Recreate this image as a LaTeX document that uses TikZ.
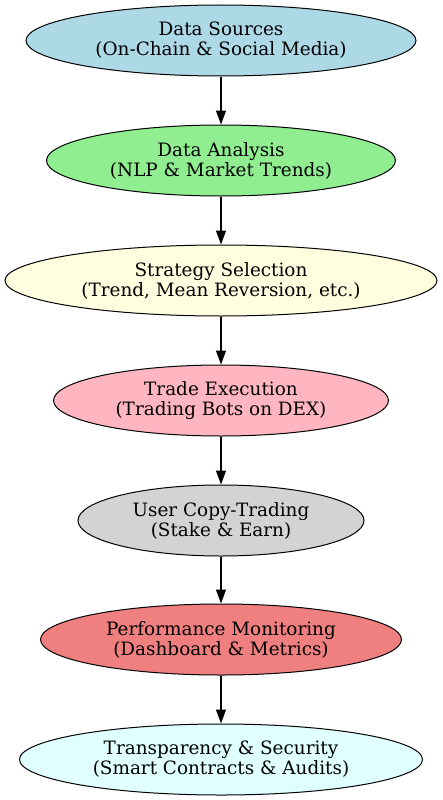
\documentclass[tikz,border=0pt]{standalone}
\usepackage{fontspec}
\setmainfont{DejaVu Serif}
\usetikzlibrary{shapes.geometric,arrows.meta}
\definecolor{cblue}{HTML}{ADD8E6}
\definecolor{cgreen}{HTML}{90EE90}
\definecolor{cyellow}{HTML}{FFFFE0}
\definecolor{cpink}{HTML}{FFB6C1}
\definecolor{cgrey}{HTML}{D3D3D3}
\definecolor{ccoral}{HTML}{F08080}
\definecolor{ccyan}{HTML}{E0FFFF}
\tikzset{
  stage/.style={ellipse, draw=black, line width=1pt, inner sep=0pt, align=center,
    minimum height=71pt, font=\fontsize{18.4pt}{20pt}\selectfont},
  flow/.style={-{Triangle[length=14pt,width=10pt]}, line width=1.1pt}
}
\begin{document}
\begin{tikzpicture}[x=1pt,y=-1pt]
\useasboundingbox (0,0) rectangle (442,800);
\node[stage, fill=cblue, minimum width=390pt] (n1) at (221,40.5) {Data Sources\\(On-Chain \& Social Media)};
\node[stage, fill=cgreen, minimum width=349pt] (n2) at (221,160.5) {Data Analysis\\(NLP \& Market Trends)};
\node[stage, fill=cyellow, minimum width=432pt] (n3) at (221,280.5) {Strategy Selection\\(Trend, Mean Reversion, etc.)};
\node[stage, fill=cpink, minimum width=335pt] (n4) at (221,400.5) {Trade Execution\\(Trading Bots on DEX)};
\node[stage, fill=cgrey, minimum width=286pt] (n5) at (221,520.5) {User Copy-Trading\\(Stake \& Earn)};
\node[stage, fill=ccoral, minimum width=361pt] (n6) at (221,639.5) {Performance Monitoring\\(Dashboard \& Metrics)};
\node[stage, fill=ccyan, minimum width=403pt] (n7) at (221,759.5) {Transparency \& Security\\(Smart Contracts \& Audits)};
\draw[flow] (n1) -- (n2);
\draw[flow] (n2) -- (n3);
\draw[flow] (n3) -- (n4);
\draw[flow] (n4) -- (n5);
\draw[flow] (n5) -- (n6);
\draw[flow] (n6) -- (n7);
\end{tikzpicture}
\end{document}
